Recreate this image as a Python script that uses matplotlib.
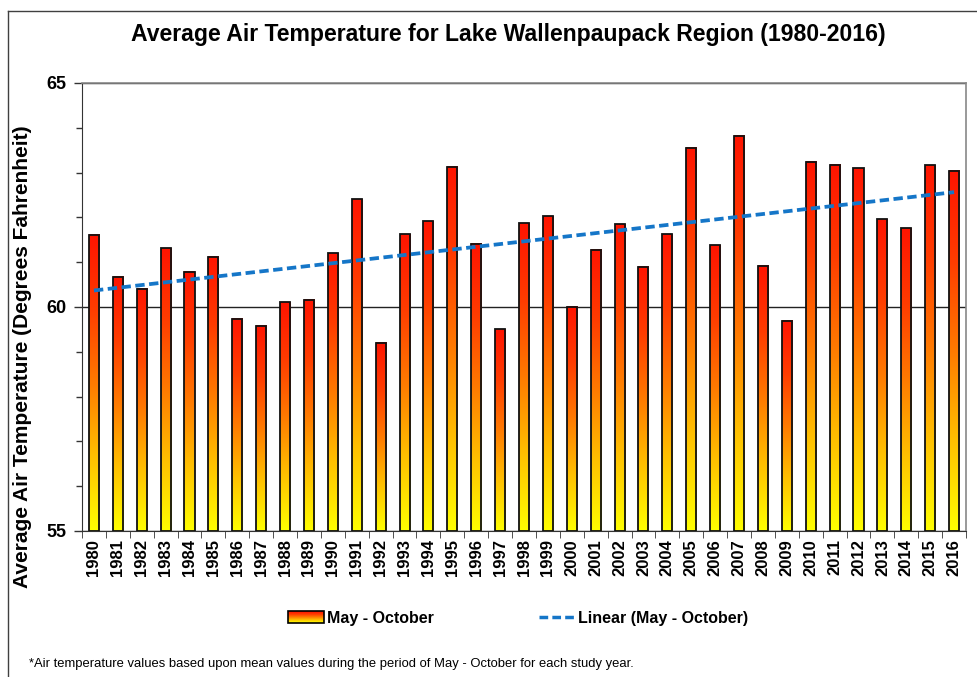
import numpy as np
import matplotlib
matplotlib.use("Agg")
import matplotlib.pyplot as plt
from matplotlib.colors import LinearSegmentedColormap
from matplotlib.patches import Rectangle
from matplotlib.legend_handler import HandlerBase
from matplotlib.lines import Line2D

years = list(range(1980, 2017))
temps = [61.61, 60.67, 60.41, 61.31, 60.79, 61.12, 59.74, 59.58, 60.11, 60.16,
         61.20, 62.40, 59.20, 61.62, 61.91, 63.13, 61.41, 59.50, 61.87, 62.03,
         60.01, 61.28, 61.85, 60.90, 61.62, 63.56, 61.38, 63.82, 60.92, 59.69,
         63.24, 63.18, 63.10, 61.96, 61.76, 63.16, 63.04]
tick_labels = [str(y) for y in years]

title = "Average Air Temperature for Lake Wallenpaupack Region (1980-2016)"
ylabel = "Average Air Temperature (Degrees Fahrenheit)"
footnote = "*Air temperature values based upon mean values during the period of May - October for each study year."

plt.rcParams['font.family'] = ['Liberation Sans', 'DejaVu Sans']

cmap = LinearSegmentedColormap.from_list("yr", ["#ffff00", "#ffc000", "#ff7a00", "#ff3c00", "#ff1400"])
trend_color = '#1576c8'
trend_dash = (0, (2.5, 1.2))

fig = plt.figure(figsize=(9.77, 6.77), dpi=100)
ax = fig.add_axes([82/977, 1-531/677, (966-82)/977, (531-83)/677])

ymin, ymax = 55, 65
x = np.arange(len(years))
width = 0.42
grad = np.linspace(0, 1, 256).reshape(-1, 1)
for xi, v in zip(x, temps):
    ax.imshow(grad, cmap=cmap, origin='lower', aspect='auto',
              extent=(xi - width/2, xi + width/2, ymin, v), zorder=2, interpolation='bilinear')
    ax.add_patch(Rectangle((xi - width/2, ymin), width, v - ymin, fill=False,
                           edgecolor='#111111', linewidth=1.3, zorder=3))

# linear trend
coef = np.polyfit(x, temps, 1)
ax.plot(x, np.polyval(coef, x), linestyle=trend_dash, color=trend_color, linewidth=2.7, zorder=4)

ax.set_xlim(-0.5, len(years) - 0.5)
ax.set_ylim(ymin, ymax)
ax.set_yticks([55, 60, 65])
ax.set_yticklabels(['55', '60', '65'], fontsize=13, fontweight='bold')
ax.set_yticks(np.arange(55, 66, 1), minor=True)
ax.yaxis.grid(True, which='major', color='#222222', linewidth=1, zorder=1)
ax.tick_params(axis='y', which='major', direction='out', length=5.5, width=1, color='#333333', pad=6)
ax.tick_params(axis='y', which='minor', direction='out', length=4, width=1, color='#333333')

ax.set_xticks(x)
ax.set_xticklabels(tick_labels, rotation=90, fontsize=12, fontweight='bold')
ax.set_xticks(np.arange(-0.5, len(years), 1), minor=True)
ax.tick_params(axis='x', which='major', length=0, pad=6)
ax.tick_params(axis='x', which='minor', length=5, color='#333333', direction='out')

for s in ['top', 'right']:
    ax.spines[s].set_color('#888888')
    ax.spines[s].set_linewidth(1.2)
ax.spines['left'].set_color('#333333')
ax.spines['bottom'].set_color('#333333')

ax.set_ylabel(ylabel, fontsize=15, fontweight='bold')
ax.yaxis.set_label_coords(-50/884, 0.388)

fig.text(508/977, 1-35/677, title, ha='center', va='center', fontsize=16.6, fontweight='bold')

class GradHandler(HandlerBase):
    def create_artists(self, legend, orig, xd, yd, w, h, fontsize, trans):
        arts = []
        n = 12
        cols = ["#ff1400", "#ff3c00", "#ff7a00", "#ffc000", "#ffff00"]
        cm = LinearSegmentedColormap.from_list("g", cols)
        for i in range(n):
            r = Rectangle((xd, yd + h - (i+1)*h/n), w, h/n, facecolor=cm(i/(n-1)),
                          edgecolor='none', transform=trans)
            arts.append(r)
        arts.append(Rectangle((xd, yd), w, h, fill=False, edgecolor='black', linewidth=1.2, transform=trans))
        return arts

bar_handle = Rectangle((0, 0), 1, 1)
line_handle = Line2D([], [], linestyle=trend_dash, color=trend_color, linewidth=2.5)
leg = fig.legend([bar_handle, line_handle], ['May - October', 'Linear (May - October)'],
                 handler_map={Rectangle: GradHandler()},
                 loc='center', bbox_to_anchor=(518/977, 1-618/677), ncol=2, frameon=False,
                 prop={'size': 11.5, 'weight': 'bold'}, handlelength=2.25, handletextpad=0.2,
                 columnspacing=6.6)

fig.text(29/977, 1-664/677, footnote, ha='left', va='center', fontsize=9.4,
         family=['Liberation Sans Narrow', 'Liberation Sans', 'DejaVu Sans'])

# outer frame (left and top edges visible)
fig.add_artist(Line2D([7.5/977, 7.5/977], [0, 1-10.5/677], transform=fig.transFigure,
                      color='#404040', linewidth=1.0))
fig.add_artist(Line2D([7.5/977, 1], [1-10.5/677, 1-10.5/677], transform=fig.transFigure,
                      color='#404040', linewidth=1.0))

fig.savefig('out.png', dpi=100, facecolor='white')
